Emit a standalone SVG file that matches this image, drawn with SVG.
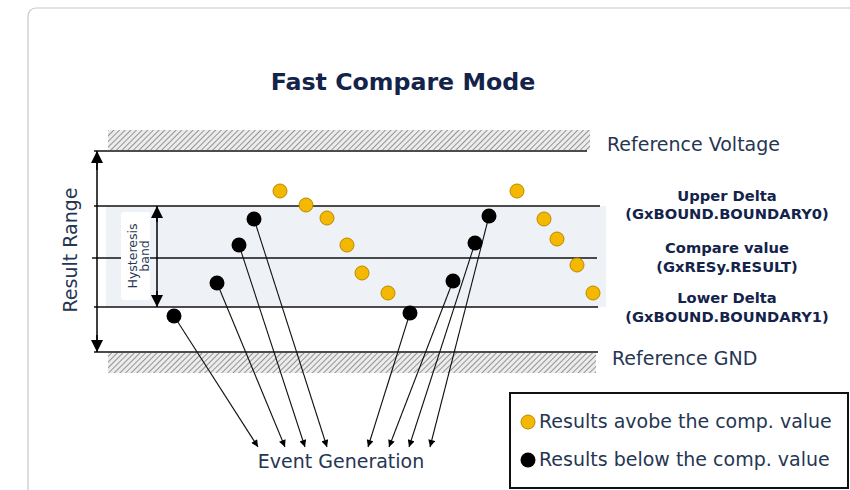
<svg xmlns="http://www.w3.org/2000/svg" width="850" height="490" viewBox="0 0 850 490">
<defs>
<pattern id="hatch" width="4" height="4" patternUnits="userSpaceOnUse" patternTransform="rotate(45)">
<rect width="4" height="4" fill="#ececec"/>
<line x1="0" y1="0" x2="0" y2="4" stroke="#6e6e6e" stroke-width="1.4"/>
</pattern>
<marker id="ah" viewBox="0 0 10 10" refX="10" refY="5" markerWidth="8" markerHeight="7" markerUnits="userSpaceOnUse" orient="auto">
<path d="M0,0 L10,5 L0,10 Z" fill="#000"/>
</marker>
<marker id="big" viewBox="0 0 10 10" refX="10" refY="5" markerWidth="14" markerHeight="12" markerUnits="userSpaceOnUse" orient="auto">
<path d="M0,0 L10,5 L0,10 Z" fill="#000"/>
</marker>
</defs>
<style>
.ln{stroke:#111;stroke-width:1.4;fill:none}
.con{stroke:#111;stroke-width:1.1;fill:none;marker-end:url(#ah)}
.y{fill:#f5b800;stroke:#b88a00;stroke-width:1}
.b{fill:#000}
.t{font-family:"DejaVu Sans",Verdana,sans-serif;fill:#263652}
.lb{font-family:"DejaVu Sans",Verdana,sans-serif;font-weight:bold;font-size:14.7px;fill:#13234a;text-anchor:middle}
</style>
<rect x="0" y="0" width="850" height="490" fill="#fff"/>
<rect x="28" y="8" width="900" height="600" rx="8" fill="#fff" stroke="#c8c8c8" stroke-width="1.2"/>
<text id="title" x="403" y="90" text-anchor="middle" class="t" style="font-weight:bold;font-size:23.7px;fill:#13234a">Fast Compare Mode</text>

<g id="bands">
<rect x="106" y="206" width="500" height="101" fill="#eef1f6"/>
<rect x="108" y="130" width="482" height="20" fill="url(#hatch)"/>
<rect x="108" y="353" width="488" height="20" fill="url(#hatch)"/>
<line class="ln" x1="94" y1="151" x2="587" y2="151"/>
<line class="ln" x1="94" y1="206" x2="600" y2="206"/>
<line class="ln" x1="92" y1="258" x2="597" y2="258"/>
<line class="ln" x1="94" y1="307" x2="598" y2="307"/>
<line class="ln" x1="94" y1="352" x2="598" y2="352"/>
</g>

<g id="result-range">
<line x1="97" y1="158" x2="97" y2="346" stroke="#000" stroke-width="1.5"/>
<line x1="97" y1="170" x2="97" y2="151" stroke="#000" stroke-width="1.5" marker-end="url(#big)"/>
<line x1="97" y1="335" x2="97" y2="352" stroke="#000" stroke-width="1.5" marker-end="url(#big)"/>
<text class="t" transform="translate(77,250) rotate(-90)" text-anchor="middle" font-size="19">Result Range</text>
</g>

<g id="hysteresis">
<rect x="121" y="212" width="29" height="88" rx="3" fill="#fff"/>
<text class="t" transform="translate(136,256) rotate(-90)" text-anchor="middle" font-size="12.5"><tspan x="0" y="1">Hysteresis</tspan><tspan x="0" y="13">band</tspan></text>
<line x1="157" y1="212" x2="157" y2="301" stroke="#000" stroke-width="1.5"/>
<line x1="157" y1="222" x2="157" y2="206" stroke="#000" stroke-width="1.5" marker-end="url(#big)"/>
<line x1="157" y1="291" x2="157" y2="307" stroke="#000" stroke-width="1.5" marker-end="url(#big)"/>
</g>

<g id="connectors">
<line class="con" x1="174" y1="316" x2="258" y2="447"/>
<line class="con" x1="217" y1="283" x2="285" y2="447"/>
<line class="con" x1="239" y1="245" x2="305" y2="447"/>
<line class="con" x1="254" y1="219" x2="327" y2="447"/>
<line class="con" x1="410" y1="313" x2="368" y2="447"/>
<line class="con" x1="453" y1="281" x2="389" y2="447"/>
<line class="con" x1="475" y1="243" x2="409" y2="447"/>
<line class="con" x1="489" y1="216" x2="430" y2="447"/>
</g>

<g id="above-dots">
<circle class="y" cx="280" cy="191" r="7"/>
<circle class="y" cx="306" cy="205" r="7"/>
<circle class="y" cx="327" cy="218" r="7"/>
<circle class="y" cx="347" cy="245" r="7"/>
<circle class="y" cx="362" cy="273" r="7"/>
<circle class="y" cx="388" cy="293" r="7"/>
<circle class="y" cx="517" cy="191" r="7"/>
<circle class="y" cx="544" cy="219" r="7"/>
<circle class="y" cx="557" cy="239" r="7"/>
<circle class="y" cx="577" cy="265" r="7"/>
<circle class="y" cx="593" cy="293" r="7"/>
</g>

<g id="below-dots">
<circle class="b" cx="174" cy="316" r="7.5"/>
<circle class="b" cx="217" cy="283" r="7.5"/>
<circle class="b" cx="239" cy="245" r="7.5"/>
<circle class="b" cx="254" cy="219" r="7.5"/>
<circle class="b" cx="410" cy="313" r="7.5"/>
<circle class="b" cx="453" cy="281" r="7.5"/>
<circle class="b" cx="475" cy="243" r="7.5"/>
<circle class="b" cx="489" cy="216" r="7.5"/>
</g>

<g id="labels">
<text class="t" x="607" y="151" font-size="19">Reference Voltage</text>
<text class="t" x="612" y="365" font-size="19">Reference GND</text>
<text class="lb" x="727" y="201">Upper Delta</text>
<text class="lb" x="727" y="219">(GxBOUND.BOUNDARY0)</text>
<text class="lb" x="727" y="253">Compare value</text>
<text class="lb" x="727" y="272">(GxRESy.RESULT)</text>
<text class="lb" x="727" y="303">Lower Delta</text>
<text class="lb" x="727" y="322">(GxBOUND.BOUNDARY1)</text>
<text id="event" class="t" x="341" y="468" text-anchor="middle" font-size="19">Event Generation</text>
</g>

<g id="legend">
<rect x="510" y="393" width="338" height="95" fill="#fff" stroke="#111" stroke-width="2"/>
<circle class="y" cx="528" cy="422" r="7"/>
<text class="t" x="539" y="428" font-size="19">Results avobe the comp. value</text>
<circle class="b" cx="528" cy="460" r="7.5"/>
<text class="t" x="539" y="466" font-size="19">Results below the comp. value</text>
</g>
</svg>
